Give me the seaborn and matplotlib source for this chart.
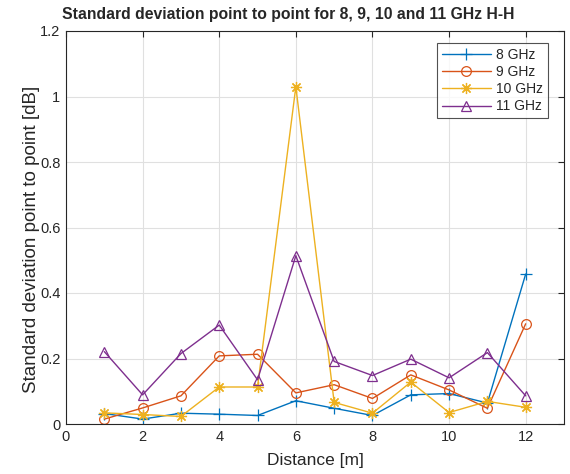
import matplotlib
matplotlib.use("Agg")
import matplotlib.pyplot as plt
import seaborn as sns
import pandas as pd

distance = [1, 2, 3, 4, 5, 6, 7, 8, 9, 10, 11, 12]
ghz8 = [0.032, 0.015, 0.033, 0.030, 0.026, 0.071, 0.048, 0.026, 0.089, 0.093, 0.064, 0.458]
ghz9 = [0.015, 0.049, 0.086, 0.208, 0.213, 0.095, 0.120, 0.078, 0.150, 0.104, 0.048, 0.306]
ghz10 = [0.034, 0.029, 0.023, 0.113, 0.113, 1.030, 0.066, 0.033, 0.128, 0.035, 0.069, 0.051]
ghz11 = [0.221, 0.089, 0.215, 0.302, 0.135, 0.514, 0.191, 0.148, 0.198, 0.141, 0.218, 0.086]
series_names = ["8 GHz", "9 GHz", "10 GHz", "11 GHz"]
colors = ["#0072BD", "#D95319", "#EDB120", "#7E2F8E"]
marker_list = ["+", "o", (8, 2, 0), "^"]

rows = []
for name, vals in zip(series_names, [ghz8, ghz9, ghz10, ghz11]):
    for d, v in zip(distance, vals):
        rows.append({"Distance": d, "Std": v, "Series": name})
df = pd.DataFrame(rows)

sns.set_style("white")
plt.rcParams["font.family"] = ["Liberation Sans", "DejaVu Sans"]

fig = plt.figure(figsize=(5.70, 4.74), dpi=100)
ax = fig.add_axes([66/570, 50/474, (564-66)/570, (424-31)/474])

sns.lineplot(data=df, x="Distance", y="Std", hue="Series",
             hue_order=series_names, palette=colors,
             legend=False, ax=ax, linewidth=1.0)

sizes = [8, 7, 8, 7]
for line, col, m, sz in zip(ax.lines[:4], colors, marker_list, sizes):
    line.set_marker(m)
    line.set_markeredgecolor(col)
    line.set_markerfacecolor("none")
    line.set_markeredgewidth(0.9)
    line.set_markersize(sz)

ax.set_xlim(0, 13)
ax.set_ylim(0, 1.2)
ax.set_xticks(range(0, 13, 2))
ax.set_yticks([0, 0.2, 0.4, 0.6, 0.8, 1.0, 1.2])
ax.set_yticklabels(["0", "0.2", "0.4", "0.6", "0.8", "1", "1.2"])
ax.grid(True, color="#e0e0e0", linewidth=0.8)
ax.tick_params(direction="in", length=4, top=True, right=True, labelsize=10.5,
               colors="#262626", width=0.8, pad=4)
for s in ax.spines.values():
    s.set_color("#262626")
    s.set_linewidth(0.8)

ax.set_xlabel("Distance [m]", fontsize=12.5, color="#262626", labelpad=7)
ax.set_ylabel("Standard deviation point to point [dB]", fontsize=13.5,
              color="#262626")
ax.yaxis.set_label_coords(-0.053, 0.471)
fig.text(0.505, 1 - 15/474,
         "Standard deviation point to point for 8, 9, 10 and 11 GHz H-H",
         fontsize=11.3, fontweight="bold", ha="center", va="center")

leg = ax.legend(ax.lines[:4], series_names, loc="upper right", fontsize=10,
                frameon=True, fancybox=False, borderpad=0.35, handlelength=3.5,
                handletextpad=0.4, labelspacing=0.23, borderaxespad=0,
                bbox_to_anchor=(1 - 16/498, 1 - 12/393))
leg.get_frame().set_edgecolor("#262626")
leg.get_frame().set_linewidth(0.8)

fig.savefig("out.png", dpi=100)
